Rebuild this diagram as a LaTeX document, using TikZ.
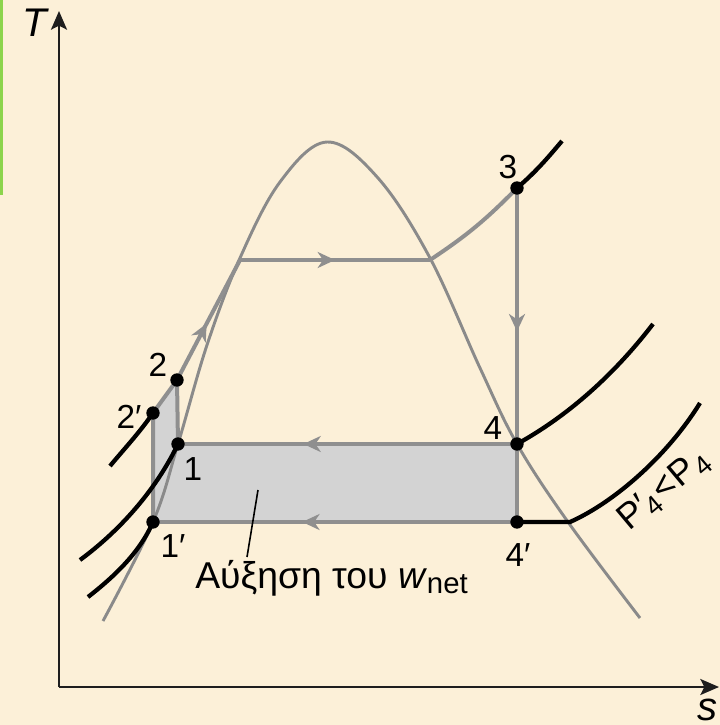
\documentclass[tikz,border=0pt]{standalone}
\usepackage{fontspec}
\setmainfont{Liberation Sans}
\usetikzlibrary{arrows.meta,decorations.markings}
\definecolor{bg}{HTML}{FCF0D8}
\definecolor{cyc}{HTML}{8F8F8F}
\definecolor{domec}{HTML}{8A8A8A}
\definecolor{areagray}{HTML}{D3D3D3}
\definecolor{grn}{HTML}{8CD44C}
\definecolor{axisc}{HTML}{1E1E1E}
\newcommand{\lowsub}[1]{\raisebox{-0.3ex}{\fontsize{20}{20}\selectfont #1}}
\tikzset{
  cycline/.style={draw=cyc,line width=3pt},
  domeline/.style={draw=domec,line width=2.2pt},
  isobar/.style={draw=black,line width=3.2pt},
  axisline/.style={draw=axisc,line width=1.6pt,-{Stealth[length=14pt,width=12pt,inset=3pt]}},
  midarrow/.style={postaction={decorate},decoration={markings,mark=at position #1 with {\arrow[cyc]{Stealth[length=13pt,width=12pt,inset=4pt]}}}},
  statedot/.style={circle,fill=black,inner sep=0pt,minimum size=10pt},
  numlabel/.style={font=\fontsize{25}{25}\selectfont,inner sep=0pt},
  axislabel/.style={font=\fontsize{30}{30}\selectfont\itshape,inner sep=0pt},
}
\begin{document}
\begin{tikzpicture}[x=0.75pt,y=-0.75pt]
\useasboundingbox (0,0) rectangle (720,725);
\fill[bg] (0,0) rectangle (720,725);
\fill[grn] (0,0) rectangle (3,195);

% coordinates of states
\coordinate (s1p) at (153,522);
\coordinate (s1) at (178,444);
\coordinate (s2p) at (153,413);
\coordinate (s2) at (177,380);
\coordinate (sL) at (240,260);
\coordinate (sV) at (430,260);
\coordinate (s3) at (517,188);
\coordinate (s4) at (517,444);
\coordinate (s4p) at (517,522);
\coordinate (sX) at (570,522);
\coordinate (O) at (59,687);
\coordinate (Tend) at (59,11);
\coordinate (send) at (719,687);

% shaded area
\fill[areagray] (s1p) -- (s2p) -- (s2) -- (s1) -- (s4) -- (s4p) -- cycle;

% axes
\draw[axisline] (O) -- (Tend);
\draw[axisline] (O) -- (send);
\node[axislabel] (Tlab) at (35,23) {T};
\node[axislabel,anchor=base] (slab) at (707,720) {s};

% saturation dome
\draw[domeline] plot[smooth,tension=0.6] coordinates {(103,621) (153,522) (178,444) (207,345) (240,258) (280,182) (327,142) (378,178) (430,258) (480,368) (517,444) (568,522) (640,618)};

% cycle lines
\draw[cycline] (s1p) -- (s2p) -- (s2);
\draw[cycline] (s1) -- (s2);
\draw[cycline,midarrow=0.47] (s2) -- (sL);
\draw[cycline,midarrow=0.5] (sL) -- (sV);
\draw[cycline] (sV) to[bend right=6] (s3);
\draw[cycline,midarrow=0.56] (s3) -- (s4);
\draw[cycline] (s4) -- (s4p);
\draw[cycline,midarrow=0.63] (s4) -- (s1);
\draw[cycline,midarrow=0.59] (s4p) -- (s1p);

% isobars
\draw[isobar] (s3) .. controls (538,170) and (550,155) .. (562,141);
\draw[isobar] (s4) .. controls (575,412) and (620,367) .. (653,324);
\draw[isobar] (s4p) -- (sX) .. controls (615,502) and (668,455) .. (700,403);
\draw[isobar] (110,466) .. controls (125,448) and (140,432) .. (s2p);
\draw[isobar] (80,560) .. controls (118,532) and (155,492) .. (s1);
\draw[isobar] (88,597) .. controls (115,576) and (140,552) .. (s1p);

% state dots
\foreach \p in {s1p,s1,s2p,s2,s3,s4,s4p} \node[statedot] (d\p) at (\p) {};

% labels
\node[numlabel] (l2) at (158,365) {2};
\node[numlabel] (l2p) at (129,417) {2′};
\node[numlabel] (l1) at (193,469) {1};
\node[numlabel] (l1p) at (173,546) {1′};
\node[numlabel] (l3) at (508,167) {3};
\node[numlabel] (l4) at (493,428) {4};
\node[numlabel] (l4p) at (518,555) {4′};
\node[font=\fontsize{27}{27}\selectfont,inner sep=0pt,rotate=40] (plab) at (664,490) {P′\kern-2pt\lowsub{4}\kern1pt<\kern1ptP\kern0.5pt\lowsub{4}};

% work label
\node[font=\fontsize{28}{28}\selectfont,inner sep=0pt,anchor=base west] (wlab) at (195,588) {Αύξηση του \textit{w}\raisebox{-0.3ex}{\fontsize{22}{22}\selectfont net}};
\coordinate (leadtop) at (258,490);
\coordinate (leadbot) at (247,557);
\draw[black,line width=1.2pt] (leadtop) -- (leadbot);
\end{tikzpicture}
\end{document}
